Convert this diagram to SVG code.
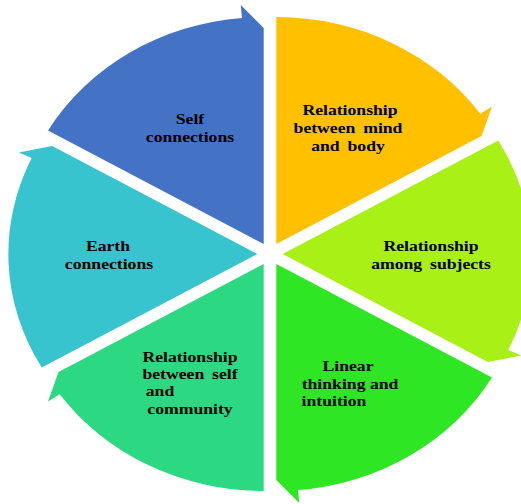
<svg xmlns="http://www.w3.org/2000/svg" xmlns:xlink="http://www.w3.org/1999/xlink" width="521" height="504" viewBox="0 0 521 504">
  <defs>
    <!-- one pie segment of the cycle: apex at origin, running clockwise from 150deg to 90deg,
         ending in a half arrowhead on the outer rim -->
    <path id="seg" d="M0,0 L-196.59,-113.5 A227,227 0 0,1 -19.785,-226.136 L-20.917,-239.087 L0,-216 Z"/>
  </defs>
  <style>
    .lbl { font-family: "Liberation Serif", "Times New Roman", serif; font-weight: bold; font-size: 15.5px; fill: #000; text-anchor: middle; }
  </style>
  <rect width="521" height="504" fill="#fff"/>

  <g id="self-connections">
    <use xlink:href="#seg" fill="#4472C4" transform="translate(270,254) scale(1.097,1) rotate(0) translate(-5.75,-9.96)"/>
    <text class="lbl" transform="translate(190,124) scale(1.14,1)">Self</text>
    <text class="lbl" transform="translate(190,142) scale(1.14,1)">connections</text>
  </g>

  <g id="mind-body">
    <use xlink:href="#seg" fill="#FFC000" transform="translate(270,254) scale(1.097,1) rotate(60) translate(-5.75,-9.96)"/>
    <text class="lbl" transform="translate(350,115) scale(1.14,1)">Relationship</text>
    <text class="lbl" transform="translate(348,133) scale(1.14,1)" word-spacing="3">between mind</text>
    <text class="lbl" transform="translate(348,151) scale(1.14,1)" word-spacing="3">and body</text>
  </g>

  <g id="among-subjects">
    <use xlink:href="#seg" fill="#A8F016" transform="translate(270,254) scale(1.097,1) rotate(120) translate(-5.75,-9.96)"/>
    <text class="lbl" transform="translate(431,251) scale(1.14,1)">Relationship</text>
    <text class="lbl" transform="translate(431,269) scale(1.14,1)" word-spacing="3">among subjects</text>
  </g>

  <g id="linear-intuition">
    <use xlink:href="#seg" fill="#2EE624" transform="translate(270,254) scale(1.097,1) rotate(180) translate(-5.75,-9.96)"/>
    <text class="lbl" transform="translate(348,371) scale(1.14,1)">Linear</text>
    <text class="lbl" transform="translate(350,389) scale(1.14,1)">thinking and</text>
    <text class="lbl" transform="translate(334,406) scale(1.14,1)">intuition</text>
  </g>

  <g id="self-community">
    <use xlink:href="#seg" fill="#2CD882" transform="translate(270,254) scale(1.097,1) rotate(240) translate(-5.75,-9.96)"/>
    <text class="lbl" transform="translate(190,362) scale(1.14,1)">Relationship</text>
    <text class="lbl" transform="translate(190,379) scale(1.14,1)" word-spacing="3">between self</text>
    <text class="lbl" transform="translate(160,396) scale(1.14,1)">and</text>
    <text class="lbl" transform="translate(190,414) scale(1.14,1)">community</text>
  </g>

  <g id="earth-connections">
    <use xlink:href="#seg" fill="#38C4CE" transform="translate(270,254) scale(1.097,1) rotate(300) translate(-5.75,-9.96)"/>
    <text class="lbl" transform="translate(108,251) scale(1.14,1)">Earth</text>
    <text class="lbl" transform="translate(109,269) scale(1.14,1)">connections</text>
  </g>
</svg>
